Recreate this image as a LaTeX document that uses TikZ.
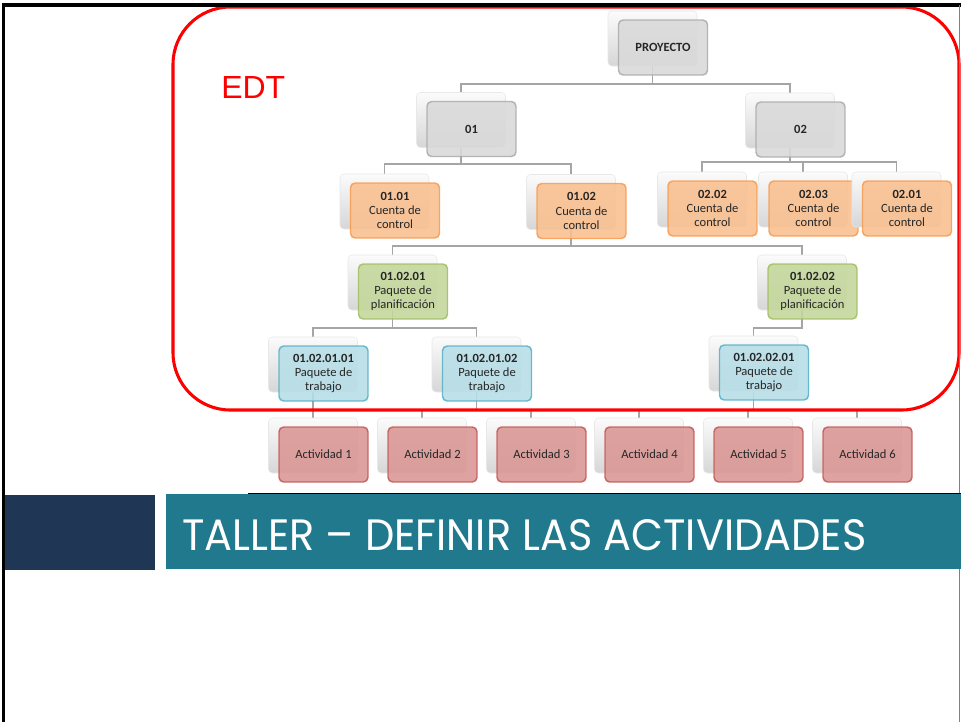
\documentclass[tikz,border=0pt]{standalone}
\usepackage{fontspec}
\setmainfont{Carlito}
\newfontfamily\edtfont{Liberation Sans}
\newfontfamily\titlefont{Poppins}
\usetikzlibrary{calc}
\definecolor{grayF}{HTML}{D9D9D9}
\definecolor{grayD}{HTML}{A6A6A6}
\definecolor{orangeF}{HTML}{FAC090}
\definecolor{orangeD}{HTML}{F79646}
\definecolor{greenF}{HTML}{C4D79B}
\definecolor{greenD}{HTML}{9BBB59}
\definecolor{blueF}{HTML}{B7DEE8}
\definecolor{blueD}{HTML}{4BACC6}
\definecolor{redF}{HTML}{DA9694}
\definecolor{redD}{HTML}{C0504D}
\definecolor{teal}{HTML}{21798E}
\definecolor{navy}{HTML}{1F3654}
\definecolor{connc}{HTML}{A5A5A5}
\pgfdeclarelayer{paper}
\pgfdeclarelayer{bg}
\pgfsetlayers{paper,bg,main}
\tikzset{
  backbox/.style={rounded corners=3pt, minimum width=66.75pt, minimum height=41.25pt, inner sep=0pt,
    draw=gray!18, top color=gray!3, bottom color=gray!32},
  frontbox/.style={rounded corners=3.5pt, minimum width=66.75pt, minimum height=41.25pt, inner sep=1pt,
    line width=1.1pt, fill opacity=0.88, draw opacity=0.8, text opacity=1, align=center,
    font=\fontsize{9.4}{10.6}\selectfont, text=black!85},
  graybox/.style={frontbox, draw=grayD, fill=grayF},
  orangebox/.style={frontbox, draw=orangeD, fill=orangeF},
  greenbox/.style={frontbox, draw=greenD, fill=greenF},
  bluebox/.style={frontbox, draw=blueD, fill=blueF},
  redbox/.style={frontbox, draw=redD, fill=redF},
  conn/.style={draw=connc, line width=1pt},
}
% #1 name, #2 x, #3 y, #4 style, #5 text ; back box is named #1bk
\newcommand\wbsnode[5]{%
  \node[backbox] (#1bk) at (#2-10.5,#3-9) {};
  \node[#4] (#1) at (#2,#3) {#5};
}
\begin{document}
\begin{tikzpicture}[x=0.75pt,y=-0.75pt]
\useasboundingbox (0,0) rectangle (961,722);
\begin{pgfonlayer}{paper}
\fill[white] (0,0) rectangle (961,722);
\end{pgfonlayer}

% nodes
\wbsnode{P}{663}{47.5}{graybox}{\textbf{PROYECTO}}
\wbsnode{A}{471.5}{129}{graybox}{\textbf{01}}
\wbsnode{B}{800.5}{129.5}{graybox}{\textbf{02}}
\wbsnode{AA}{395}{210.5}{orangebox}{\textbf{01.01}\\Cuenta de\\control}
\wbsnode{AB}{581.5}{211}{orangebox}{\textbf{01.02}\\Cuenta de\\control}
\wbsnode{BB}{712.5}{208.5}{orangebox}{\textbf{02.02}\\Cuenta de\\control}
\wbsnode{BC}{813.5}{208.5}{orangebox}{\textbf{02.03}\\Cuenta de\\control}
\wbsnode{BA}{907}{208.5}{orangebox}{\textbf{02.01}\\Cuenta de\\control}
\wbsnode{C}{403}{291.5}{greenbox}{\textbf{01.02.01}\\Paquete de\\planificación}
\wbsnode{D}{812.5}{291.5}{greenbox}{\textbf{01.02.02}\\Paquete de\\planificación}
\wbsnode{CA}{323.5}{373.5}{bluebox}{\textbf{01.02.01.01}\\Paquete de\\trabajo}
\wbsnode{CB}{487}{373.5}{bluebox}{\textbf{01.02.01.02}\\Paquete de\\trabajo}
\wbsnode{DA}{764}{372.5}{bluebox}{\textbf{01.02.02.01}\\Paquete de\\trabajo}
\wbsnode{T1}{323.5}{454.5}{redbox}{Actividad 1}
\wbsnode{T2}{432.5}{454.5}{redbox}{Actividad 2}
\wbsnode{T3}{541.5}{454.5}{redbox}{Actividad 3}
\wbsnode{T4}{649.5}{454.5}{redbox}{Actividad 4}
\wbsnode{T5}{758.5}{454.5}{redbox}{Actividad 5}
\wbsnode{T6}{867.5}{454.5}{redbox}{Actividad 6}

% bus levels
\coordinate (y0) at (0,84);
\coordinate (y1) at (0,164);
\coordinate (y2) at (0,162);
\coordinate (y3) at (0,246);
\coordinate (y4) at (0,328);
\coordinate (y5) at (0,410);

\begin{pgfonlayer}{bg}
\foreach \c in {A,B} \draw[conn] (Pbk.south) -- (Pbk.south|-y0) -| (\c bk.north);
\foreach \c in {AA,AB} \draw[conn] (Abk.south) -- (Abk.south|-y1) -| (\c bk.north);
\foreach \c in {BB,BC,BA} \draw[conn] (Bbk.south) -- (Bbk.south|-y2) -| (\c bk.north);
\foreach \c in {C,D} \draw[conn] (ABbk.south) -- (ABbk.south|-y3) -| (\c bk.north);
\foreach \c in {CA,CB} \draw[conn] (Cbk.south) -- (Cbk.south|-y4) -| (\c bk.north);
\draw[conn] (Dbk.south) -- (Dbk.south|-y4) -| (DAbk.north);
\draw[conn] (CAbk.south) -- (T1bk.north);
\foreach \c in {T2,T3,T4} \draw[conn] (CBbk.south) -- (CBbk.south|-y5) -| (\c bk.north);
\foreach \c in {T5,T6} \draw[conn] (DAbk.south) -- (DAbk.south|-y5) -| (\c bk.north);
\end{pgfonlayer}

% EDT frame
\draw[red, line width=2.3pt, rounded corners=43pt] (173,7) rectangle (959,410);
\node[anchor=base west, inner sep=0pt, text=red, font=\edtfont\fontsize{24}{24}\selectfont] (edt) at (221,98) {EDT};

% slide frame
\draw[black, line width=2.3pt] (2,5) -- (961,5);
\draw[black, line width=2.3pt] (3.5,5) -- (3.5,722);
\draw[gray, line width=0.75pt] (959.5,5) -- (959.5,722);

% title band
\fill[navy] (5,495) rectangle (155,570);
\fill[teal] (166,494) rectangle (961,569);
\draw[black, line width=0.8pt] (248,493.5) -- (961,493.5);
\node[anchor=base west, inner sep=0pt, text=white] (title) at (182,550)
  {\resizebox{513pt}{23.25pt}{\titlefont TALLER – DEFINIR LAS ACTIVIDADES}};
\end{tikzpicture}
\end{document}
